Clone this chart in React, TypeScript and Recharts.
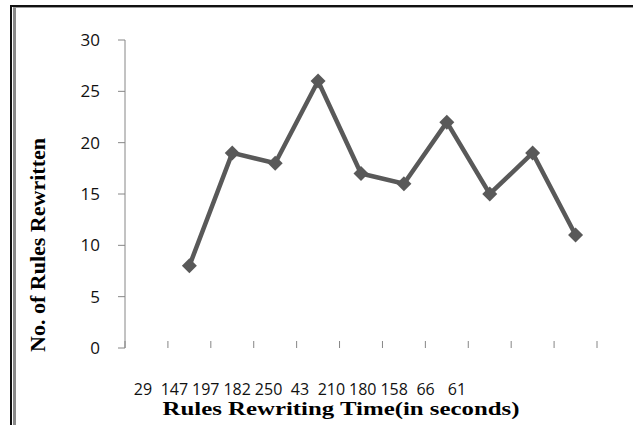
import React from 'react';
import { LineChart, Line, XAxis, YAxis, Label } from 'recharts';

const timeLabels = ['29', '147', '197', '182', '250', '43', '210', '180', '158', '66', '61'];
const rulesRewritten: (number | null)[] = [null, 8, 19, 18, 26, 17, 16, 22, 15, 19, 11];
const yTicks = [0, 5, 10, 15, 20, 25, 30];
const slotTicks = [0, 1, 2, 3, 4, 5, 6, 7, 8, 9, 10, 11];

const data = timeLabels.map((label, i) => ({ label, slot: i + 0.5, rules: rulesRewritten[i] }));

const LINE = '#595959';
const AXIS = '#868686';

const Diamond = (p: any) => {
  const { cx, cy, value, index } = p;
  if (cx == null || cy == null || value == null) return <g key={`d${index}`} />;
  const r = 7.5;
  return (
    <path
      key={`d${index}`}
      d={`M${cx},${cy - r}L${cx + r},${cy}L${cx},${cy + r}L${cx - r},${cy}Z`}
      fill={LINE}
    />
  );
};

const EmptyTick = () => <g />;

const YTitle = (props: any) => {
  const vb = props.viewBox || { x: 0, y: 40, width: 125, height: 308 };
  const x = 45;
  const y = vb.y + vb.height / 2 + 51;
  return (
    <text
      x={x}
      y={y}
      transform={`rotate(-90, ${x}, ${y})`}
      textAnchor="middle"
      fontFamily="'Liberation Serif', serif"
      fontWeight="bold"
      fontSize={22}
      fill="#000"
      textLength={214}
      lengthAdjust="spacingAndGlyphs"
    >
      No. of Rules Rewritten
    </text>
  );
};

const XTitle = (props: any) => {
  const vb = props.viewBox || { x: 125, y: 356, width: 472, height: 69 };
  const x = vb.x + vb.width / 2 - 20;
  const y = vb.y + vb.height - 10;
  return (
    <text
      x={x}
      y={y}
      textAnchor="middle"
      fontFamily="'Liberation Serif', serif"
      fontWeight="bold"
      fontSize={18}
      fill="#000"
      textLength={357}
      lengthAdjust="spacingAndGlyphs"
    >
      Rules Rewriting Time(in seconds)
    </text>
  );
};

export default function App() {
  return (
    <div style={{ position: 'absolute', left: 0, top: 0, width: 633, height: 425, background: '#fff', overflow: 'hidden' }}>
      <div style={{ position: 'absolute', left: 10, top: 5, width: 623, height: 420, borderTop: '2px solid #111', borderLeft: '2px solid #111', boxSizing: 'border-box' }} />
      <div style={{ position: 'absolute', left: 13, top: 7, width: 3, height: 418, background: '#8a8a8a' }} />
      <div style={{ position: 'absolute', left: 13, top: 7, width: 620, height: 1, background: '#9a9a9a' }} />
      <div style={{ position: 'absolute', left: 0, top: 0 }}>
        <LineChart width={633} height={425} data={data} margin={{ top: 40, right: 36, bottom: 0, left: 0 }}>
          <XAxis
            xAxisId="a"
            type="number"
            dataKey="slot"
            domain={[0, 11]}
            ticks={slotTicks}
            allowDecimals={false}
            axisLine={false}
            tick={EmptyTick}
            tickLine={{ stroke: AXIS, strokeWidth: 1 }}
            tickSize={-7}
            height={8}
          />
          <XAxis
            xAxisId="z"
            type="category"
            dataKey="label"
            axisLine={false}
            tickLine={false}
            tickSize={0}
            tickMargin={28}
            padding={{ left: 18, right: 140 }}
            interval={0}
            height={69}
            tick={{ fontSize: 16, fill: '#111', fontFamily: "'Open Sans', sans-serif" }}
          >
            <Label content={XTitle} />
          </XAxis>
          <YAxis
            domain={[0, 30]}
            ticks={yTicks}
            width={125}
            axisLine={{ stroke: AXIS, strokeWidth: 1 }}
            tickLine={{ stroke: AXIS, strokeWidth: 1 }}
            tickSize={7}
            tickMargin={18}
            tick={{ fontSize: 17, fill: '#111', fontFamily: "'Open Sans', sans-serif" }}
          >
            <Label content={YTitle} />
          </YAxis>
          <Line
            xAxisId="a"
            type="linear"
            dataKey="rules"
            stroke={LINE}
            strokeWidth={4.5}
            dot={Diamond}
            activeDot={false}
            isAnimationActive={false}
          />
        </LineChart>
      </div>
    </div>
  );
}
